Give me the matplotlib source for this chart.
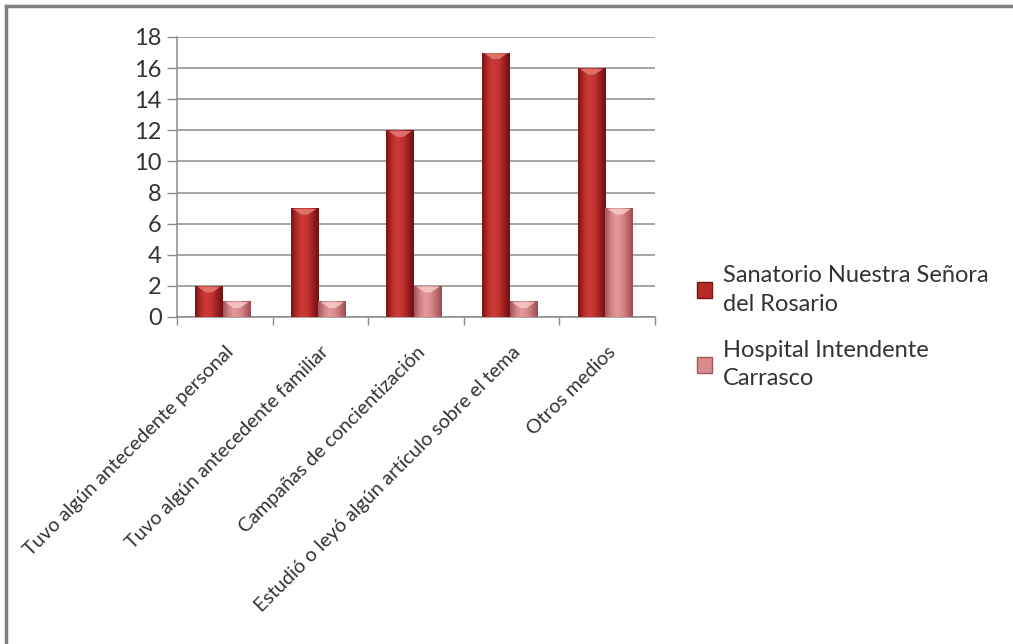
import numpy as np
import matplotlib
matplotlib.use("Agg")
import matplotlib.pyplot as plt
from matplotlib.colors import LinearSegmentedColormap
from matplotlib.patches import Patch
from matplotlib.lines import Line2D

plt.rcParams['font.family'] = ['Lato', 'DejaVu Sans']

# data
categorias = ["Tuvo algún antecedente personal",
              "Tuvo algún antecedente familiar",
              "Campañas de concientización",
              "Estudió o leyó algún artículo sobre el tema",
              "Otros medios"]
sanatorio = [2, 7, 12, 17, 16]
hospital = [1, 1, 2, 1, 7]
series_names = ["Sanatorio Nuestra Señora\ndel Rosario",
                "Hospital Intendente\nCarrasco"]

red_cmap = LinearSegmentedColormap.from_list(
    "red", ["#7a1315", "#b52c2a", "#cc3d39", "#c2332f", "#9a1f1f", "#6e1012"])
pink_cmap = LinearSegmentedColormap.from_list(
    "pink", ["#a4545a", "#cf7f82", "#e29a9b", "#d98b8d", "#bf6e72", "#9a4a50"])
red_cap = "#e77a74"
pink_cap = "#f6caca"

fig = plt.figure(figsize=(10.13, 6.44), dpi=100)
ax = fig.add_axes([0.1747, 0.5078, 0.4719, 0.4348])

x = np.arange(len(categorias))
w = 0.29
bars1 = ax.bar(x - w / 2 - 0.02, sanatorio, w, color="#b52c2a", zorder=3)
bars2 = ax.bar(x + w / 2 - 0.02, hospital, w, color="#d98b8d", zorder=3)

# cylinder-ish shading on every bar
grad = np.linspace(0, 1, 64).reshape(1, -1)
for bars, cmap, cap in [(bars1, red_cmap, red_cap), (bars2, pink_cmap, pink_cap)]:
    for b in bars:
        x0, y0 = b.get_x(), b.get_y()
        bw, bh = b.get_width(), b.get_height()
        im = ax.imshow(grad, extent=[x0, x0 + bw, y0, y0 + bh], aspect="auto",
                       cmap=cmap, zorder=3.5, interpolation="bilinear")
        im.set_clip_path(b)
        capx = [x0 + bw * 0.08, x0 + bw * 0.92, x0 + bw * 0.62, x0 + bw * 0.38]
        capy = [y0 + bh - 0.05, y0 + bh - 0.05, y0 + bh - 0.42, y0 + bh - 0.42]
        ax.fill(capx, capy, color=cap, alpha=0.85, zorder=4, lw=0)

ax.set_xlim(-0.5, len(categorias) - 0.5)
ax.set_ylim(0, 18)
ax.set_yticks(np.arange(0, 19, 2))
ax.yaxis.grid(True, color="#8c8c8c", linewidth=1.1, zorder=0)
ax.set_axisbelow(True)

ax.set_xticks(np.arange(-0.5, len(categorias), 1))
ax.set_xticklabels([])
ax.set_xticks(x, minor=True)
ax.set_xticklabels(categorias, minor=True, rotation=45, ha="right",
                   rotation_mode="anchor", fontsize=14.2, color="#333333")
ax.tick_params(axis="x", which="minor", length=0, pad=19)
ax.tick_params(axis="x", which="major", length=6, color="#8c8c8c", width=1)
ax.tick_params(axis="y", length=7, color="#8c8c8c", width=1,
               labelsize=17, labelcolor="#333333", pad=4)

for s in ["top", "right"]:
    ax.spines[s].set_visible(False)
for s in ["left", "bottom"]:
    ax.spines[s].set_color("#8c8c8c")
    ax.spines[s].set_linewidth(1.1)

handles = [Patch(facecolor="#b52c2a", edgecolor="#7a1315"),
           Patch(facecolor="#d98b8d", edgecolor="#a4545a")]
leg = fig.legend(handles, series_names, loc="upper left",
                 bbox_to_anchor=(0.667, 0.621), frameon=False, fontsize=17,
                 handlelength=0.65, handleheight=0.65, handletextpad=0.45,
                 labelspacing=1.05, labelcolor="#333333")
for t in leg.get_texts():
    t.set_linespacing(1.45)

# frame lines at top and left of the picture
fig.add_artist(Line2D([0.006, 1.0], [0.99, 0.99], color="#808080", lw=2.5))
fig.add_artist(Line2D([0.006, 0.006], [0.0, 0.99], color="#808080", lw=2.5))

fig.savefig("out.png", dpi=100, facecolor="white")
